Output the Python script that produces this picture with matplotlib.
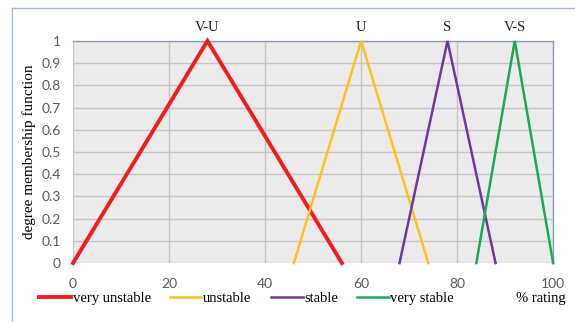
import matplotlib.pyplot as plt
from matplotlib.lines import Line2D

# membership function corner points (% rating -> degree)
vu_x = [0, 28, 56]
u_x = [46, 60, 74]
s_x = [68, 78, 88]
vs_x = [84, 92, 100]
tri_y = [0, 1, 0]

names = ["very unstable", "unstable", "stable", "very stable"]
tags = ["V-U", "U", "S", "V-S"]
colors = ["#f21c1c", "#ffc21a", "#7236a2", "#1aaa55"]
widths = [2.8, 1.8, 1.8, 1.8]

x_ticks = [0, 20, 40, 60, 80, 100]
y_ticks = [0, 0.1, 0.2, 0.3, 0.4, 0.5, 0.6, 0.7, 0.8, 0.9, 1]

fig = plt.figure(figsize=(5.75, 3.22), dpi=100)
ax = fig.add_axes([0.127, 0.183, 0.835, 0.690])
ax.set_facecolor("#ebebeb")

series = [vu_x, u_x, s_x, vs_x]
handles = []
for xs, name, tag, c, lw in zip(series, names, tags, colors, widths):
    h, = ax.plot(xs, tri_y, color=c, lw=lw, label=name, clip_on=False, zorder=3,
                 solid_joinstyle="miter")
    handles.append(h)
    ax.text(xs[1], 1.03, tag, ha="center", va="bottom", fontsize=10.5,
            family="Liberation Serif", color="#222222")

ax.set_xlim(0, 100)
ax.set_ylim(0, 1)
ax.set_xticks(x_ticks)
ax.set_yticks(y_ticks)
ax.set_yticklabels(["0", "0.1", "0.2", "0.3", "0.4", "0.5", "0.6", "0.7", "0.8", "0.9", "1"])
ax.grid(True, color="#c6c6c6", lw=1.0)
ax.set_axisbelow(True)
ax.tick_params(length=0, labelsize=10, labelcolor="#595959")
ax.tick_params(axis="x", pad=11)
ax.tick_params(axis="y", pad=9)
for lab in ax.get_xticklabels() + ax.get_yticklabels():
    lab.set_family("Lato")
for side in ["left", "bottom"]:
    ax.spines[side].set_visible(False)
for side in ["top", "right"]:
    ax.spines[side].set_color("#8a9cc0")
    ax.spines[side].set_linewidth(1.0)

ax.set_ylabel("degree membership function", family="Liberation Serif",
              fontsize=11)
ax.yaxis.set_label_coords(-0.077, 0.5)

fig.legend(handles=handles, loc="center left", bbox_to_anchor=(0.045, 0.073),
           ncol=4, frameon=False, handlelength=2.2, handletextpad=0.1,
           columnspacing=1.3, prop={"family": "Liberation Serif", "size": 10.5})
fig.text(0.983, 0.073, "% rating", ha="right", va="center",
         family="Liberation Serif", fontsize=10.5)

# outer chart frame (cropped: only top and left edges visible)
fig.add_artist(Line2D([0.021, 1.0], [0.975, 0.975], transform=fig.transFigure,
                      color="#a9bad6", lw=1.0))
fig.add_artist(Line2D([0.021, 0.021], [0.0, 0.975], transform=fig.transFigure,
                      color="#a9bad6", lw=1.0))

fig.savefig("out.png", dpi=100)
